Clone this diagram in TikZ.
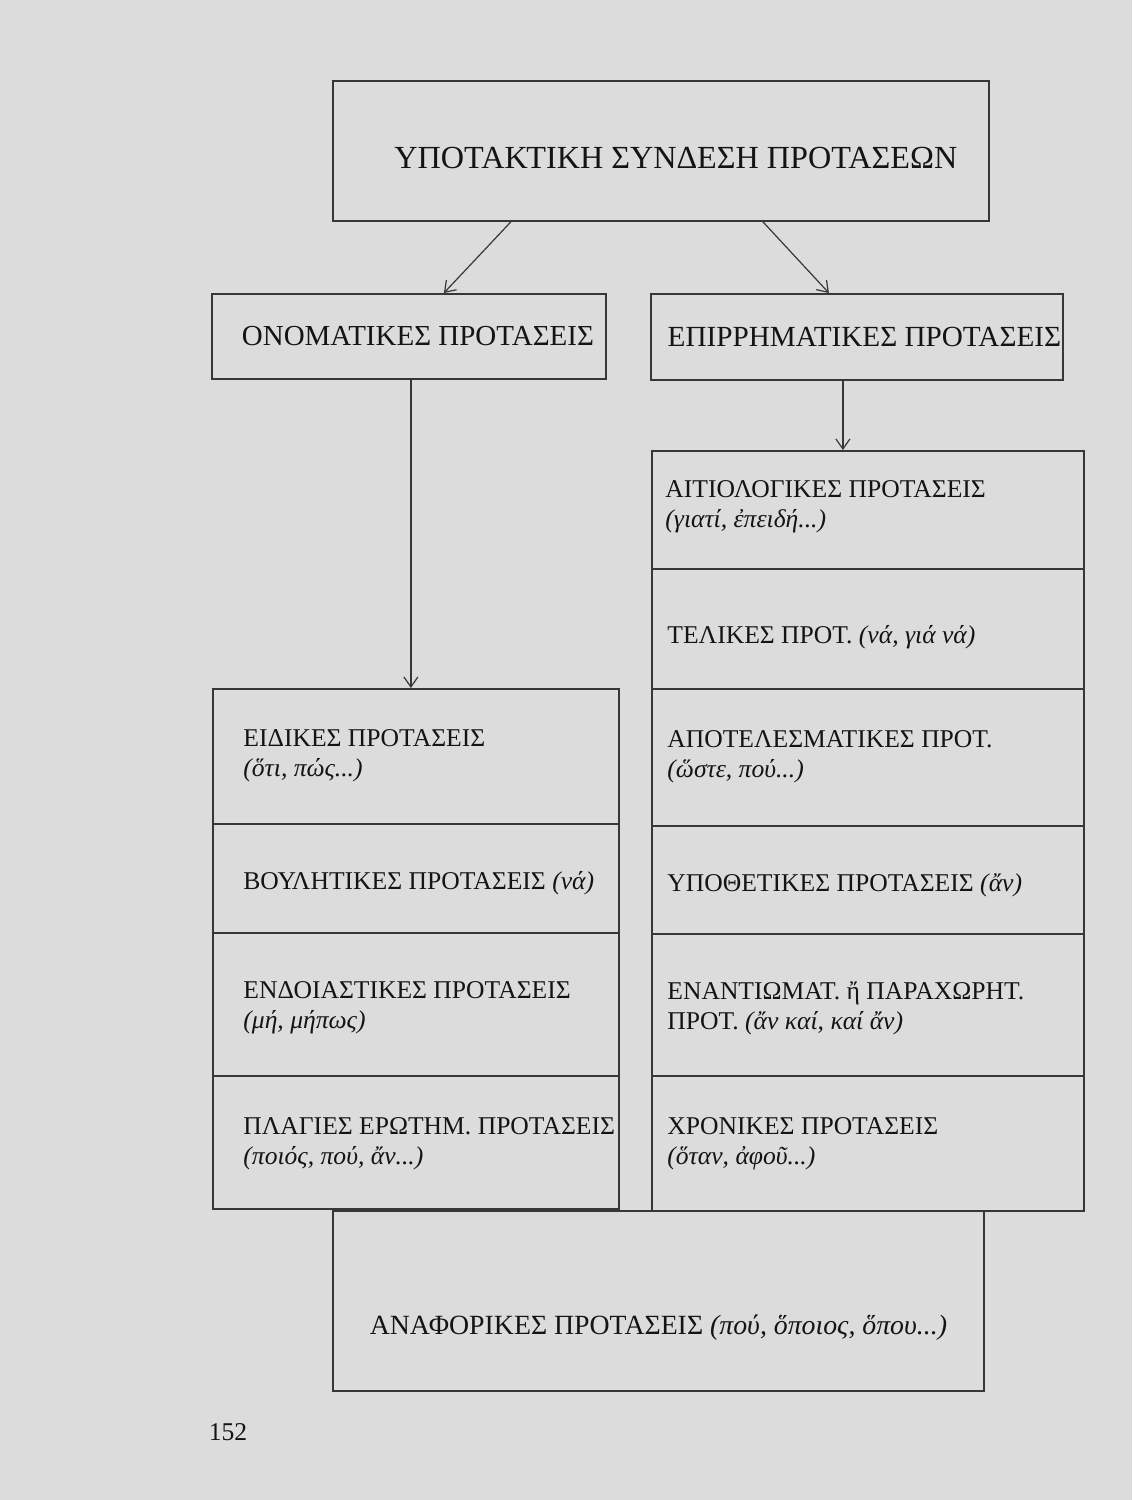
\documentclass[tikz,border=0pt]{standalone}
\usepackage{fontspec}
\setmainfont{Liberation Serif}
\usetikzlibrary{arrows.meta}
\definecolor{paper}{RGB}{220,220,220}
\definecolor{ink}{RGB}{55,55,55}
\definecolor{txt}{RGB}{20,20,20}
\begin{document}
\begin{tikzpicture}[x=0.5pt,y=-0.5pt,
  box/.style={draw=ink,line width=0.9pt,inner sep=0pt,anchor=north west},
  lbl/.style={anchor=west,align=left,inner sep=0pt,text=txt,font=\fontsize{12.8pt}{15pt}\selectfont},
  arr/.style={draw=ink,line width=0.6pt,-{Straight Barb[length=5pt,width=7pt]}}]
\fill[paper] (0,0) rectangle (1132,1500);
\useasboundingbox (0,0) rectangle (1132,1500);
% main boxes
\node[box,minimum width=328pt,minimum height=70pt,text=txt,font=\fontsize{16.1pt}{19pt}\selectfont] (top) at (332,80) {\hspace*{15pt}\raisebox{-8.8pt}[0pt][0pt]{ΥΠΟΤΑΚΤΙΚΗ ΣΥΝΔΕΣΗ ΠΡΟΤΑΣΕΩΝ}};
\node[box,minimum width=197pt,minimum height=42.5pt,text=txt,font=\fontsize{14.5pt}{17pt}\selectfont] (onom) at (211,293) {\hspace*{9pt}ΟΝΟΜΑΤΙΚΕΣ ΠΡΟΤΑΣΕΙΣ};
\node[box,minimum width=206pt,minimum height=43pt,text=txt,font=\fontsize{14.6pt}{17pt}\selectfont] (epir) at (650,293) {\hspace*{7.5pt}ΕΠΙΡΡΗΜΑΤΙΚΕΣ ΠΡΟΤΑΣΕΙΣ};
% right column
\node[box,minimum width=216pt,minimum height=59pt] (r1) at (651,450) {};
\node[box,minimum width=216pt,minimum height=60pt] (r2) at (651,568) {};
\node[box,minimum width=216pt,minimum height=68.5pt] (r3) at (651,688) {};
\node[box,minimum width=216pt,minimum height=54pt] (r4) at (651,825) {};
\node[box,minimum width=216pt,minimum height=71pt] (r5) at (651,933) {};
\node[box,minimum width=216pt,minimum height=67.5pt] (r6) at (651,1075) {};
% left column
\node[box,minimum width=203pt,minimum height=67.5pt] (l1) at (212,688) {};
\node[box,minimum width=203pt,minimum height=54.5pt] (l2) at (212,823) {};
\node[box,minimum width=203pt,minimum height=71.5pt] (l3) at (212,932) {};
\node[box,minimum width=203pt,minimum height=66.5pt] (l4) at (212,1075) {};
% bottom box
\node[box,minimum width=325.5pt,minimum height=90pt,text=txt,font=\fontsize{13.9pt}{16pt}\selectfont] (anaf) at (332,1210) {\raisebox{-17pt}[0pt][0pt]{ΑΝΑΦΟΡΙΚΕΣ ΠΡΟΤΑΣΕΙΣ \textit{(πού, ὅποιος, ὅπου...)}}};
% texts right
\node[lbl] (t1) at (665,507) {ΑΙΤΙΟΛΟΓΙΚΕΣ ΠΡΟΤΑΣΕΙΣ\\\textit{(γιατί, ἐπειδή...)}};
\node[lbl] (t2) at (667,637) {ΤΕΛΙΚΕΣ ΠΡΟΤ. \textit{(νά, γιά νά)}};
\node[lbl] (t3) at (667,757) {ΑΠΟΤΕΛΕΣΜΑΤΙΚΕΣ ΠΡΟΤ.\\\textit{(ὥστε, πού...)}};
\node[lbl] (t4) at (667,885) {ΥΠΟΘΕΤΙΚΕΣ ΠΡΟΤΑΣΕΙΣ \textit{(ἄν)}};
\node[lbl] (t5) at (667,1008) {ΕΝΑΝΤΙΩΜΑΤ. ἤ ΠΑΡΑΧΩΡΗΤ.\\ΠΡΟΤ. \textit{(ἄν καί, καί ἄν)}};
\node[lbl] (t6) at (667,1144) {ΧΡΟΝΙΚΕΣ ΠΡΟΤΑΣΕΙΣ\\\textit{(ὅταν, ἀφοῦ...)}};
% texts left
\node[lbl] (s1) at (243,756) {ΕΙΔΙΚΕΣ ΠΡΟΤΑΣΕΙΣ\\\textit{(ὅτι, πώς...)}};
\node[lbl] (s2) at (243,883) {ΒΟΥΛΗΤΙΚΕΣ ΠΡΟΤΑΣΕΙΣ \textit{(νά)}};
\node[lbl] (s3) at (243,1008) {ΕΝΔΟΙΑΣΤΙΚΕΣ ΠΡΟΤΑΣΕΙΣ\\\textit{(μή, μήπως)}};
\node[lbl] (s4) at (243,1144) {ΠΛΑΓΙΕΣ ΕΡΩΤΗΜ. ΠΡΟΤΑΣΕΙΣ\\\textit{(ποιός, πού, ἄν...)}};
% page number
\node[lbl,anchor=center] (pg) at (228,1432) {152};
% connectors
\draw[arr] ([xshift=-75pt]top.south) -- ([xshift=17.5pt]onom.north);
\draw[arr] ([xshift=51pt]top.south) -- ([xshift=-14pt]epir.north);
\draw[arr] ([xshift=1pt]onom.south) -- ([xshift=1pt]onom.south |- l1.north);
\draw[arr] ([xshift=-7pt]epir.south) -- ([xshift=-7pt]epir.south |- r1.north);
\end{tikzpicture}
\end{document}
